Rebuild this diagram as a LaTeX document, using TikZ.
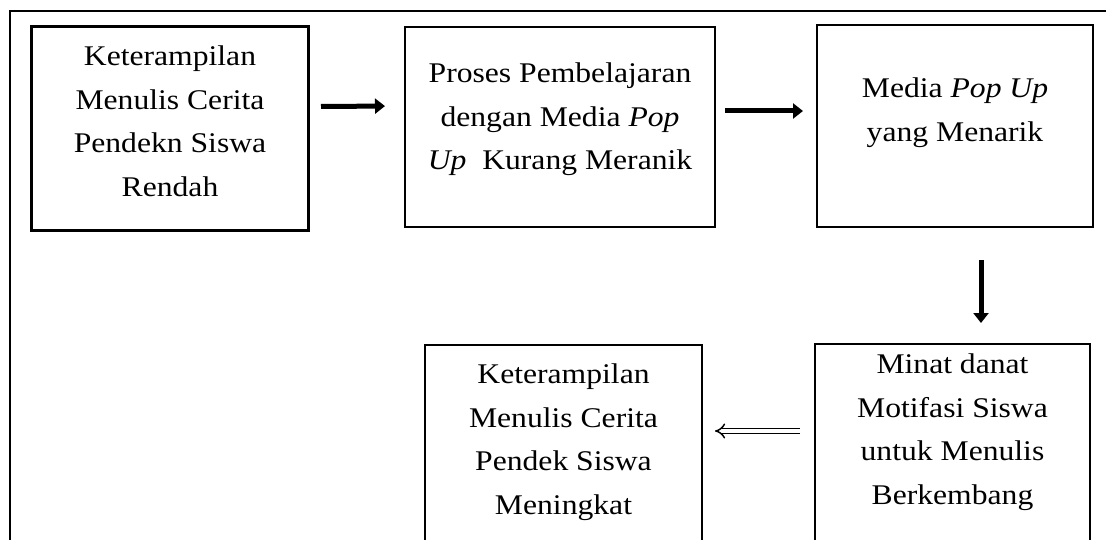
\documentclass[tikz,border=0pt]{standalone}
\usepackage{fontspec}
\setmainfont{Liberation Serif}[FakeStretch=1.11]
\usetikzlibrary{arrows.meta}
\begin{document}
\begin{tikzpicture}[x=1pt,y=-1pt,
  box/.style={draw, line width=2pt, anchor=north west, inner sep=0pt},
  txt/.style={font=\fontsize{28.5}{43.5}\selectfont, align=center, inner sep=0pt, anchor=north},
  fat/.style={line width=5pt, -{Triangle[length=10pt,width=15pt]}},
  hollow/.style={double, double distance=3.6pt, line width=1.5pt, -{Implies}}]
\useasboundingbox (0,0) rectangle (1106,540);
\clip (0,0) rectangle (1106,540);
\draw[line width=2.2pt] (10,580) -- (10,11) -- (1130,11);
% boxes
\node[box, line width=3pt, minimum width=277pt, minimum height=204pt] (b1) at (30,25) {};
\node[box, minimum width=310pt, minimum height=200pt] (b2) at (404,26) {};
\node[box, minimum width=276pt, minimum height=202pt] (b3) at (816,24) {};
\node[box, minimum width=275pt, minimum height=227pt] (b4) at (814,343) {};
\node[box, minimum width=277pt, minimum height=227pt] (b5) at (424,344) {};
% texts
\node[txt] (t1) at ([yshift=-21pt]b1.north) {Keterampilan\\Menulis Cerita\\Pendekn Siswa\\Rendah};
\node[txt] (t2) at ([yshift=-37pt]b2.north) {Proses Pembelajaran\\dengan Media \textit{Pop}\\\textit{Up}\ \ Kurang Meranik};
\node[txt] (t3) at ([yshift=-54pt]b3.north) {Media \textit{Pop Up}\\yang Menarik};
\node[txt] (t4) at ([yshift=-11pt]b4.north) {Minat danat\\Motifasi Siswa\\untuk Menulis\\Berkembang};
\node[txt] (t5) at ([yshift=-20pt]b5.north) {Keterampilan\\Menulis Cerita\\Pendek Siswa\\Meningkat};
% connectors
\draw[fat, shorten <=11pt, shorten >=19pt] ([yshift=22pt]b1.east) -- ([yshift=21pt]b2.west);
\draw[fat, shorten <=9pt, shorten >=13pt] ([yshift=16pt]b2.east) -- ([yshift=15pt]b3.west);
\draw[fat, shorten <=32pt, shorten >=20pt] ([xshift=26pt]b3.south) -- ([xshift=26pt]b3.south |- b4.north);
\draw[hollow, shorten <=14pt, shorten >=12pt] ([yshift=26.5pt]b4.west) -- ([yshift=26.5pt]b4.west -| b5.east);
\end{tikzpicture}
\end{document}
